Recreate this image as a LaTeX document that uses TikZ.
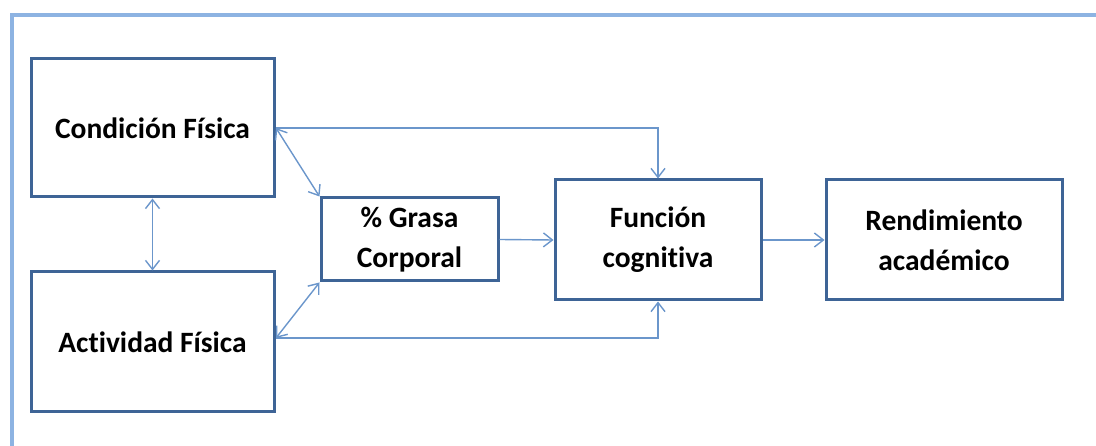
\documentclass[tikz,border=0pt]{standalone}
\usepackage{fontspec}
\setmainfont{Carlito}[RawFeature={-liga;-clig}]
\usetikzlibrary{arrows.meta}
\definecolor{frameblue}{HTML}{8DB3E2}
\definecolor{boxblue}{HTML}{3E6496}
\definecolor{arrblue}{HTML}{6B96CB}
\tikzset{
  box/.style={draw=boxblue, line width=3pt, fill=white, align=center, inner sep=0pt,
    font=\fontsize{29.5}{40}\selectfont\bfseries},
  conn/.style={draw=arrblue, line width=1.4pt, -{Straight Barb[length=9pt,width=14pt]}},
  conn2/.style={draw=arrblue, line width=1.4pt, {Straight Barb[length=9pt,width=14pt]}-{Straight Barb[length=9pt,width=14pt]}},
}
\begin{document}
\begin{tikzpicture}[x=1pt,y=-1pt]
\useasboundingbox (0,0) rectangle (1096,446);
\draw[frameblue, line width=4pt] (12,446) -- (12,15) -- (1096,15);
\node[box, minimum width=243pt, minimum height=138pt] (cf) at (152.5,128) {Condición Física};
\node[box, minimum width=243pt, minimum height=140pt] (af) at (152.5,342) {Actividad Física};
\node[box, minimum width=177pt, minimum height=83pt] (gc) at (409.5,239.5) {\% Grasa\\Corporal};
\node[box, minimum width=206pt, minimum height=120pt] (fc) at (658,240) {Función\\cognitiva};
\node[box, minimum width=236pt, minimum height=120pt] (ra) at (944,240) {Rendimiento\\académico};
\coordinate (c1) at (276,128);
\coordinate (c2) at (276,338);
\draw[conn] (c1) -- (658,128) -- (fc.north);
\draw[conn] (c2) -- (658,338) -- (fc.south);
\draw[conn2] (c1) -- (gc.north west);
\draw[conn2] (c2) -- (gc.south west);
\draw[conn2] (cf.south) -- (af.north);
\draw[conn] (gc.east) -- (fc.west);
\draw[conn] (fc.east) -- (ra.west);
\end{tikzpicture}
\end{document}
